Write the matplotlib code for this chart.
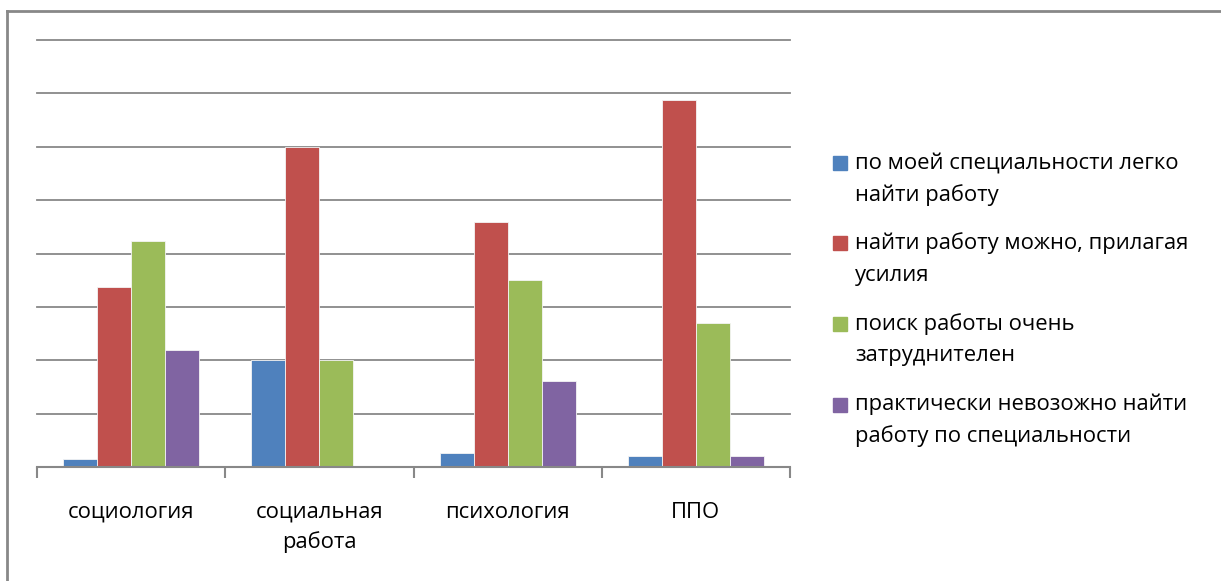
import matplotlib
matplotlib.use("Agg")
import matplotlib.pyplot as plt
import numpy as np
from matplotlib.patches import Rectangle
from matplotlib.lines import Line2D

categories = ["социология", "социальная\nработа", "психология", "ППО"]
series_names = [
    "по моей специальности легко\nнайти работу",
    "найти работу можно, прилагая\nусилия",
    "поиск работы очень\nзатруднителен",
    "практически невозожно найти\nработу по специальности",
]
easy = [0.15, 2.0, 0.26, 0.2]
with_effort = [3.37, 6.0, 4.59, 6.87]
very_hard = [4.23, 2.0, 3.5, 2.7]
impossible = [2.19, 0.0, 1.61, 0.2]
series = [easy, with_effort, very_hard, impossible]
colors = ["#4F81BD", "#C0504D", "#9BBB59", "#8064A2"]

plt.rcParams['font.family'] = ['Open Sans', 'DejaVu Sans']
FS = 15.8

W, H = 1221, 581
fig = plt.figure(figsize=(W / 100, H / 100), dpi=100)
ax = fig.add_axes([37 / W, 1 - 467 / H, (790 - 37) / W, (467 - 40) / H])

x = np.arange(len(categories))
bw = 34 / 188
for i, (vals, c) in enumerate(zip(series, colors)):
    ax.bar(x + (i - 1.5) * bw, vals, width=bw, color=c, edgecolor="#f4f4f4",
           linewidth=0.6, zorder=3)

ax.set_xlim(-0.5, len(categories) - 0.5)
ax.set_ylim(0, 8)
ax.set_yticks(np.arange(0, 9, 1))
ax.yaxis.grid(True, color="#888888", linewidth=1.3, zorder=0)
for gl in ax.get_ygridlines():
    gl.set_clip_on(False)
ax.tick_params(axis="y", left=False, labelleft=False)
for s in ["top", "right", "left"]:
    ax.spines[s].set_visible(False)
ax.spines["bottom"].set_color("#888888")
ax.spines["bottom"].set_linewidth(1.5)
ax.spines["bottom"].set_zorder(4)

ax.set_xticks(x)
ax.set_xticklabels(categories, fontsize=FS, linespacing=1.5)
ax.tick_params(axis="x", length=0, pad=25)
ax.set_xticks(np.arange(-0.5, len(categories), 1), minor=True)
ax.tick_params(axis="x", which="minor", length=8, width=1.5, color="#888888")

# outer chart border
fig.add_artist(Line2D([6.5 / W, 6.5 / W], [0, 1 - 11 / H], transform=fig.transFigure,
                      color="#888888", linewidth=2))
fig.add_artist(Line2D([6.5 / W, 1], [1 - 11 / H, 1 - 11 / H], transform=fig.transFigure,
                      color="#888888", linewidth=2))

# legend
for i, (name, c) in enumerate(zip(series_names, colors)):
    top = 156 + i * 80.5
    fig.add_artist(Rectangle((833 / W, 1 - (top + 14) / H), 14 / W, 14 / H,
                             transform=fig.transFigure, color=c))
    fig.text(855 / W, 1 - (top + 7) / H, name.split("\n")[0], fontsize=FS,
             va="center", ha="left")
    fig.text(855 / W, 1 - (top + 39) / H, name.split("\n")[1], fontsize=FS,
             va="center", ha="left")

fig.savefig("out.png", dpi=100)
